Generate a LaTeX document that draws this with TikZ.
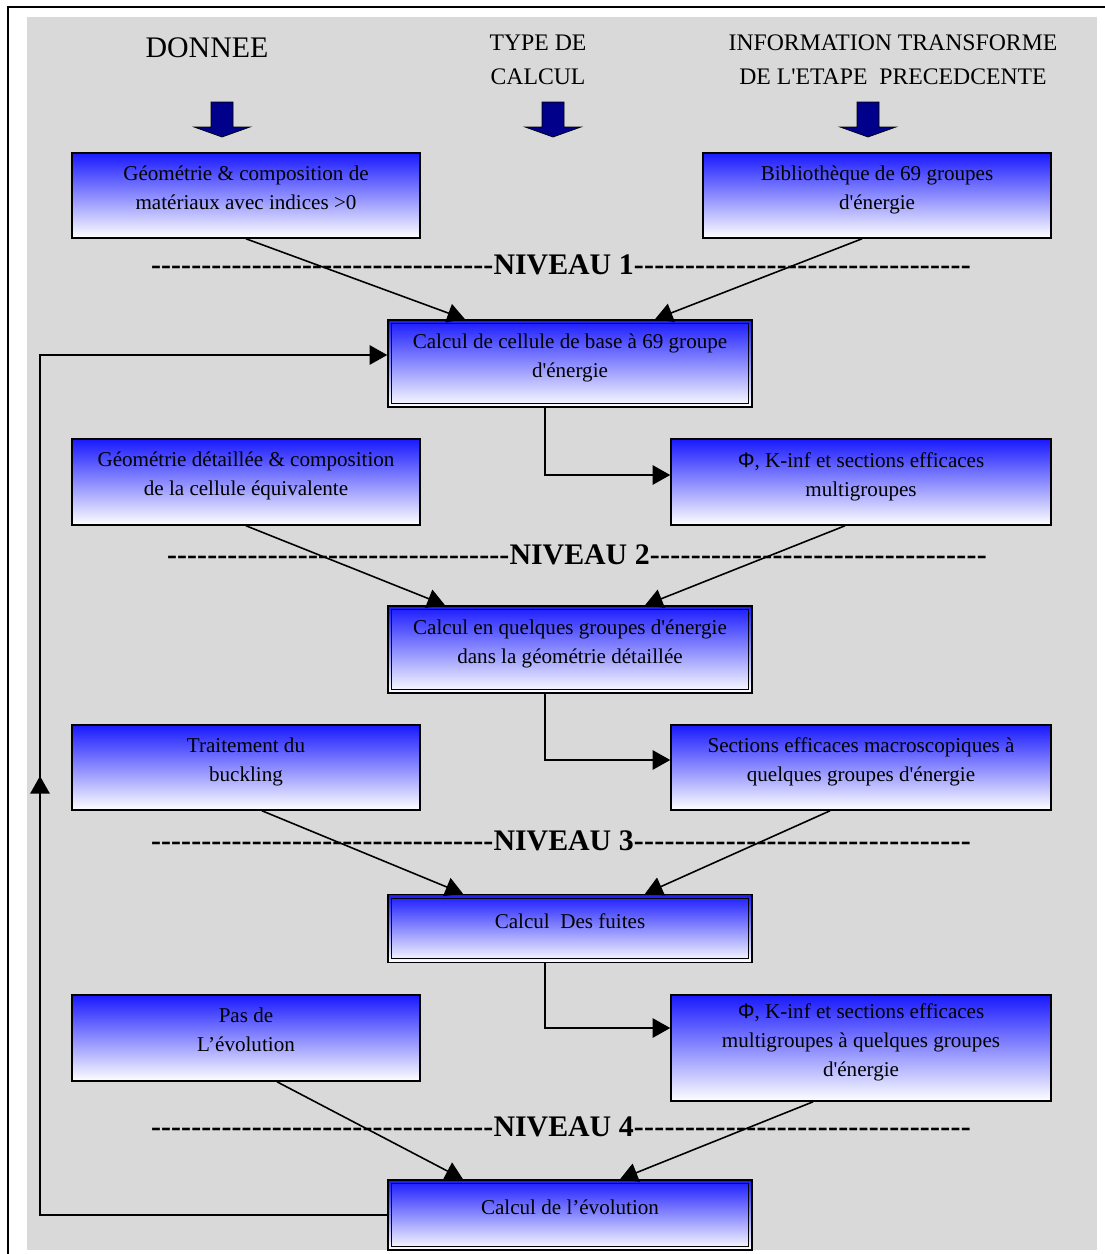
\documentclass[tikz,border=0pt]{standalone}
\usepackage{fontspec}
\setmainfont{Liberation Serif}[Ligatures=TeXOff]
\newfontfamily\phifont{Liberation Sans}
\usetikzlibrary{arrows.meta}

\definecolor{gris}{RGB}{217,217,217}
\definecolor{bleu}{RGB}{25,25,255}
\definecolor{marine}{RGB}{0,0,139}

% ligne de tirets autour des niveaux
\newcommand\tirets[1]{\hbox to #1{\xleaders\hbox{-}\hfill}}

\tikzset{
  boite/.style={draw, line width=0.9pt, top color=bleu, bottom color=white,
    align=center, inner sep=2pt, font=\fontsize{12}{16.5}\selectfont,
    execute at end node={\vrule width 0pt depth 9pt}},
  donnee/.style={boite, minimum width=6.96cm, minimum height=1.7cm},
  info/.style={boite, minimum width=7.6cm, minimum height=1.7cm},
  calcbox/.style={boite, minimum width=7.28cm, minimum height=1.74cm},
  titre/.style={align=center, inner sep=0pt, font=\fontsize{13.5}{19.5}\selectfont},
  niveau/.style={inner sep=0pt, font=\fontsize{17}{20}\selectfont\bfseries},
  flow/.style={-{Triangle[length=10pt,width=11pt]}, line width=0.9pt},
}

\begin{document}
\begin{tikzpicture}[x=0.02cm, y=-0.02cm]
    \useasboundingbox (0,0) rectangle (1105,1254);
    \clip (0,0) rectangle (1105,1254);
    \draw[line width=1.2pt] (8,7) rectangle (1130,1280);
    \fill[gris] (27,17) rectangle (1097,1250);

    % en-tetes
    \node[titre, font=\fontsize{17}{20}\selectfont] (donnee) at (207,48) {DONNEE};
    \node[titre] (type) at (538,60) {TYPE DE\\CALCUL};
    \node[titre] (infoprec) at (893,60) {INFORMATION TRANSFORME\\DE L'ETAPE\ \ PRECEDCENTE};
    \foreach \x in {222,553,868}
        \filldraw[fill=marine, draw=black, line width=0.4pt]
            (\x-11,102) -- (\x+11,102) -- (\x+11,127) -- (\x+28,127) -- (\x,137)
            -- (\x-28,127) -- (\x-11,127) -- cycle;

    % niveau 1
    \node[donnee] (b1) at (246,195.5) {Géométrie \& composition de\\matériaux avec indices >0};
    \node[boite, minimum width=6.96cm, minimum height=1.7cm] (b2) at (877,195.5) {Bibliothèque de 69 groupes\\d'énergie};
    \node[niveau] (niv1) at (561,265) {\tirets{195pt}NIVEAU 1\tirets{192pt}};
    \node[calcbox] (c1) at (570,363.5) {Calcul de cellule de base à 69 groupe\\d'énergie};

    % niveau 2
    \node[donnee, minimum height=1.72cm] (b3) at (246,482) {Géométrie détaillée \& composition\\de la cellule équivalente};
    \node[info, minimum height=1.72cm] (b4) at (861,482) {{\phifont Φ}, K-inf et sections efficaces\\multigroupes};
    \node[niveau] (niv2) at (577,555) {\tirets{195pt}NIVEAU 2\tirets{192pt}};
    \node[calcbox] (c2) at (570,649.5) {Calcul en quelques groupes d'énergie\\dans la géométrie détaillée};

    % niveau 3
    \node[donnee] (b5) at (246,767.5) {Traitement du\\buckling};
    \node[info] (b6) at (861,767.5) {Sections efficaces macroscopiques à\\quelques groupes d'énergie};
    \node[niveau] (niv3) at (561,841) {\tirets{195pt}NIVEAU 3\tirets{192pt}};
    \node[calcbox, minimum height=1.36cm] (c3) at (570,928.5) {Calcul\ \ Des fuites};

    % niveau 4
    \node[donnee, minimum height=1.72cm] (b7) at (246,1038) {Pas de\\L’évolution};
    \node[info, minimum height=2.12cm] (b8) at (861,1048) {{\phifont Φ}, K-inf et sections efficaces\\multigroupes à quelques groupes\\d'énergie};
    \node[niveau] (niv4) at (561,1127) {\tirets{195pt}NIVEAU 4\tirets{192pt}};
    \node[calcbox, minimum height=1.4cm] (c4) at (570,1215) {Calcul de l’évolution};

    % double cadre des calculs
    \foreach \n in {c1,c2,c3,c4}
        \draw[line width=0.7pt] ([shift={(2.6pt,-2.6pt)}]\n.north west) rectangle ([shift={(-2.6pt,2.6pt)}]\n.south east);

    % liaisons
    \draw[flow] (b1.south) -- ([xshift=-2.1cm]c1.north);
    \draw[flow] ([xshift=-0.3cm]b2.south) -- ([xshift=1.7cm]c1.north);
    \draw[flow] ([xshift=-0.5cm]c1.south) |- ([yshift=0.14cm]b4.west);
    \draw[flow] (b3.south) -- ([xshift=-2.5cm]c2.north);
    \draw[flow] ([xshift=-0.32cm]b4.south) -- ([xshift=1.5cm]c2.north);
    \draw[flow] ([xshift=-0.5cm]c2.south) |- ([yshift=0.15cm]b6.west);
    \draw[flow] ([xshift=0.32cm]b5.south) -- ([xshift=-2.14cm]c3.north);
    \draw[flow] ([xshift=-0.62cm]b6.south) -- ([xshift=1.5cm]c3.north);
    \draw[flow] ([xshift=-0.5cm]c3.south) |- ([yshift=0.4cm]b8.west);
    \draw[flow] ([xshift=0.62cm]b7.south) -- ([xshift=-2.14cm]c4.north);
    \draw[flow] ([xshift=-0.96cm]b8.south) -- ([xshift=1cm]c4.north);

    % retour vers le niveau 1
    \coordinate (retbas) at (40,1215);
    \coordinate (rethaut) at (40,355);
    \coordinate (retmil) at (40,776);
    \draw[flow] (c4.west) -- (retbas) -- (rethaut) -- ([yshift=0.17cm]c1.west);
    \draw[flow] (retbas) -- (retmil);
\end{tikzpicture}
\end{document}
